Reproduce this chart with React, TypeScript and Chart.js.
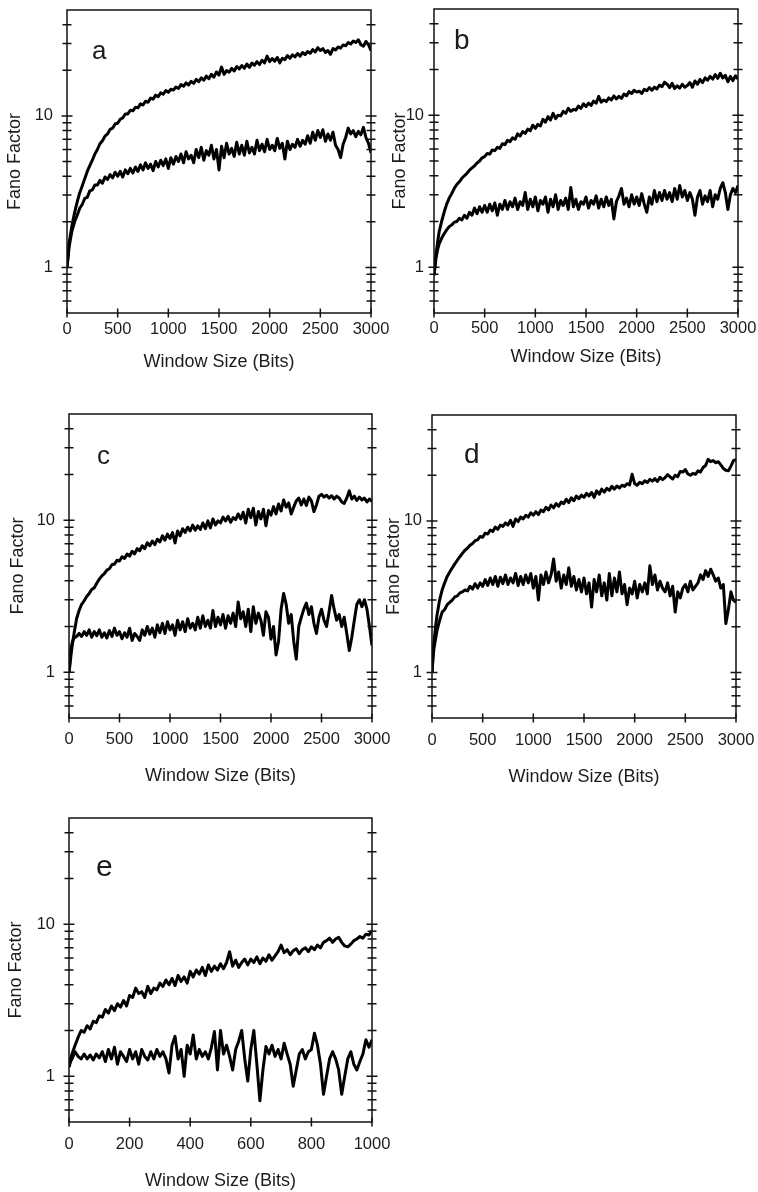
import React, { useEffect, useRef } from "react";
import { Chart, registerables } from "chart.js";

Chart.register(...registerables);

// ---------- DATA ----------
const X_BITS = [
  0, 10, 20, 35, 50, 75,
  100, 125, 150, 175, 200, 225, 250, 275,
  300, 325, 350, 375, 400, 425, 450, 475,
  500, 525, 550, 575, 600, 625, 650, 675,
  700, 725, 750, 775, 800, 825, 850, 875,
  900, 925, 950, 975, 1000, 1025, 1050, 1075,
  1100, 1125, 1150, 1175, 1200, 1225, 1250, 1275,
  1300, 1325, 1350, 1375, 1400, 1425, 1450, 1475,
  1500, 1525, 1550, 1575, 1600, 1625, 1650, 1675,
  1700, 1725, 1750, 1775, 1800, 1825, 1850, 1875,
  1900, 1925, 1950, 1975, 2000, 2025, 2050, 2075,
  2100, 2125, 2150, 2175, 2200, 2225, 2250, 2275,
  2300, 2325, 2350, 2375, 2400, 2425, 2450, 2475,
  2500, 2525, 2550, 2575, 2600, 2625, 2650, 2675,
  2700, 2725, 2750, 2775, 2800, 2825, 2850, 2875,
  2900, 2925, 2950, 2975, 3000,
];

const A_UPPER = [
  1.0, 1.2, 1.42, 1.66, 1.9, 2.3,
  2.7, 3.1, 3.45, 3.85, 4.3, 4.7, 5.1, 5.6,
  6.0, 6.55, 6.85, 7.35, 7.6, 8.15, 8.3, 8.85,
  8.95, 9.5, 9.7, 10.3, 10.3, 10.9, 10.8, 11.4,
  11.3, 12.0, 11.8, 12.5, 12.3, 13.1, 12.9, 13.7,
  13.4, 14.2, 13.9, 14.7, 14.3, 15.0, 14.8, 15.5,
  15.2, 16.1, 15.7, 16.5, 16.0, 16.9, 16.4, 17.4,
  16.8, 17.8, 17.2, 18.3, 17.6, 18.8, 18.0, 19.5,
  18.6, 21.0, 18.8, 19.9, 19.4, 20.6, 19.8, 21.2,
  20.4, 21.5, 20.6, 22.0, 20.9, 22.3, 21.6, 22.8,
  21.8, 23.3, 22.4, 24.8, 22.8, 23.9, 23.0, 24.3,
  22.4, 24.0, 23.5, 25.0, 24.0, 25.3, 24.5, 25.8,
  24.8, 26.2, 25.4, 26.6, 25.9, 27.4, 26.4, 28.2,
  27.0, 27.8, 26.2, 27.0, 25.5, 27.8, 27.2, 28.5,
  28.0, 29.4, 29.0, 30.5, 29.8, 31.2, 30.5, 31.8,
  29.5, 28.8, 31.0, 29.5, 27.0,
];

const A_LOWER = [
  1.0, 1.15, 1.35, 1.55, 1.75, 2.0,
  2.2, 2.45, 2.6, 2.85, 2.9, 3.2, 3.25, 3.5,
  3.5, 3.75, 3.6, 3.95, 3.8, 4.1, 3.9, 4.25,
  4.0, 4.3, 3.95, 4.4, 4.15, 4.5, 4.2, 4.6,
  4.3, 4.75, 4.4, 4.9, 4.5, 4.8, 4.35, 5.0,
  4.6, 5.1, 4.7, 5.2, 4.5, 5.3, 4.8, 5.4,
  5.0, 5.6, 4.9, 5.8, 5.2, 5.5, 4.9, 6.0,
  5.3, 6.2, 5.1, 5.9, 5.5, 6.4, 5.2, 6.0,
  4.4, 6.3, 5.3, 6.6, 5.6, 6.1, 5.4, 6.7,
  5.6, 6.4, 5.5, 6.8, 5.7, 6.2, 5.6, 6.9,
  5.9, 6.5, 5.8, 7.0, 6.0, 6.4, 5.9, 7.1,
  6.1, 6.6, 5.2, 6.8, 6.0, 6.5, 6.2, 7.0,
  6.3, 6.9, 6.5, 7.4, 6.6, 7.8, 6.9, 8.0,
  7.2, 8.1, 6.8, 7.6, 6.9, 7.8, 6.4, 6.0,
  5.3, 6.5, 7.2, 8.3, 7.6, 8.0, 7.3, 7.9,
  7.5, 8.4, 7.2, 6.6, 5.7,
];

const B_UPPER = [
  0.88, 1.05, 1.22, 1.45, 1.7, 2.0,
  2.3, 2.6, 2.85, 3.05, 3.3, 3.5, 3.65, 3.85,
  4.0, 4.15, 4.35, 4.5, 4.65, 4.85, 5.0, 5.25,
  5.35, 5.6, 5.55, 5.9, 5.85, 6.15, 6.05, 6.5,
  6.4, 6.85, 6.7, 7.1, 6.95, 7.55, 7.3, 7.8,
  7.6, 8.1, 7.9, 8.6, 8.2, 8.7, 8.5, 9.4,
  9.0, 9.8, 9.3, 10.3, 9.5, 10.0, 9.9, 10.6,
  10.3, 11.1, 10.6, 10.9, 10.8, 11.5, 11.1, 11.9,
  11.4, 12.0, 11.6, 12.4, 12.0, 13.3, 12.2, 12.6,
  12.3, 13.0, 12.6, 13.4, 12.8, 13.3, 12.9, 13.8,
  13.4, 14.3, 13.9, 14.6, 14.2, 14.4, 13.9, 14.8,
  14.5, 15.2, 14.6, 15.3, 14.9, 15.8, 15.4, 16.5,
  16.0, 15.2, 16.2, 15.0, 15.6, 15.1, 16.0, 15.3,
  15.7, 16.4, 15.3, 16.8, 16.0, 17.2, 16.4, 17.6,
  17.0, 18.0, 17.3, 18.5, 17.5, 18.9, 17.6, 18.3,
  16.6, 18.0, 16.9, 18.2, 17.3,
];

const B_LOWER = [
  0.9, 1.0, 1.15, 1.3, 1.42, 1.55,
  1.66, 1.76, 1.85, 1.9, 1.98, 2.0, 2.1, 2.05,
  2.2, 2.1, 2.3, 2.2, 2.45, 2.25, 2.5, 2.3,
  2.55, 2.3, 2.6, 2.35, 2.65, 2.2, 2.6, 2.4,
  2.75, 2.4, 2.7, 2.5, 2.85, 2.4, 2.7, 2.55,
  3.1, 2.4, 2.8, 2.5, 2.9, 2.35, 2.75, 2.6,
  2.9, 2.3, 2.8, 2.5, 3.0, 2.4, 2.75, 2.55,
  2.85, 2.4, 3.35, 2.5, 2.8, 2.4, 2.7, 2.6,
  2.9, 2.45, 2.75, 2.6, 2.95, 2.45, 2.8, 2.5,
  2.9, 2.55, 2.8, 2.08, 2.7, 2.95, 3.3, 2.6,
  2.85, 2.5, 3.0, 2.6, 2.9, 2.55, 3.05, 2.6,
  2.3, 2.9, 2.6, 3.2, 2.7, 3.1, 2.75, 3.2,
  2.8, 3.1, 2.7, 3.3, 2.8, 3.45, 2.9, 3.2,
  2.75, 3.1, 2.8, 2.2, 2.9, 3.2, 2.6, 2.95,
  2.7, 3.2, 2.5, 3.0, 2.8, 3.3, 3.6, 3.1,
  2.4, 3.0, 3.3, 3.1, 3.45,
];

const C_UPPER = [
  1.0, 1.12, 1.3, 1.55, 1.8, 2.25,
  2.55, 2.8, 2.95, 3.15, 3.3, 3.5, 3.6, 3.85,
  4.1, 4.3, 4.45, 4.7, 4.8, 5.1, 5.15, 5.45,
  5.4, 5.75, 5.6, 6.0, 5.8, 6.25, 6.0, 6.5,
  6.3, 6.8, 6.5, 7.1, 6.8, 7.3, 6.9, 7.5,
  7.2, 7.9, 7.4, 8.1, 7.6, 8.3, 7.1, 8.5,
  7.9, 8.8, 8.3, 9.0, 8.5, 9.3, 8.6, 9.2,
  8.7, 9.6, 8.8, 9.9, 8.9, 10.2, 9.3, 9.9,
  9.6, 10.5, 9.9, 10.6, 9.7, 10.4, 10.1, 11.0,
  10.2, 11.3, 9.6, 11.8, 10.4, 12.0, 9.3, 11.4,
  10.2, 11.8, 9.2, 11.6, 10.8, 12.3, 11.0, 12.8,
  11.5, 13.6, 12.2, 13.0, 11.0, 12.2, 13.4, 14.0,
  12.6, 13.8, 12.5, 14.2, 13.4, 11.4, 12.6, 14.4,
  14.8, 14.2, 14.6, 14.0, 14.5, 13.8, 14.4, 14.0,
  13.2, 12.9, 14.0, 15.6, 13.8, 14.4, 13.5, 14.2,
  13.6, 14.0, 13.2, 13.8, 13.3,
];

const C_LOWER = [
  1.0, 1.3, 1.45, 1.6, 1.68, 1.72,
  1.8, 1.72, 1.85, 1.75, 1.9, 1.7, 1.85, 1.74,
  1.9, 1.7, 1.82, 1.68, 1.88, 1.72, 1.95, 1.75,
  1.85, 1.66, 1.82, 1.7, 1.95, 1.62, 1.8, 1.72,
  1.62, 1.9, 1.75, 2.0, 1.78, 1.95, 1.7, 2.05,
  1.82, 2.1, 1.8, 2.15, 1.9, 2.05, 1.75, 2.2,
  1.9, 2.15, 1.85, 2.25, 1.95, 2.1, 1.9, 2.3,
  1.95, 2.35, 2.0, 2.2, 1.95, 2.55, 2.0, 2.3,
  2.05, 2.4, 1.95, 2.35, 2.1, 2.45, 2.0, 2.9,
  2.25, 2.5, 2.0, 2.6, 1.85, 2.7, 2.1, 2.45,
  2.2, 1.75, 2.5, 2.3, 1.65, 2.0, 1.3, 1.6,
  2.6, 3.3, 2.8, 2.1, 2.4, 1.6, 1.22, 2.0,
  2.3, 2.6, 2.85, 2.4, 2.7, 2.1, 1.8, 2.3,
  2.6, 2.2, 2.0, 2.5, 3.2, 2.6, 2.2, 2.4,
  2.0, 2.3, 1.8, 1.39, 1.7, 2.2, 2.8, 3.0,
  2.7, 3.0, 2.6, 2.0, 1.5,
];

const D_UPPER = [
  1.0, 1.3, 1.6, 2.0, 2.4, 3.0,
  3.5, 3.9, 4.3, 4.6, 4.9, 5.2, 5.5, 5.8,
  6.1, 6.4, 6.6, 6.9, 7.1, 7.4, 7.5, 7.9,
  7.8, 8.3, 8.2, 8.7, 8.5, 9.1, 8.8, 9.4,
  9.2, 9.7, 9.4, 10.1, 9.2, 10.3, 9.9, 10.6,
  10.3, 10.9, 10.6, 11.3, 10.9, 11.5, 11.0, 11.8,
  11.5, 12.3, 11.8, 12.7, 12.2, 13.0, 12.5, 13.3,
  13.0, 13.9, 13.2, 14.2, 13.6, 14.6, 14.0, 14.8,
  14.3, 15.2, 14.6, 15.4, 14.3, 15.8, 15.0, 16.2,
  15.5, 16.4, 15.9, 16.9, 16.2, 17.0, 16.5, 17.2,
  16.9, 17.6, 17.3, 20.3, 17.6, 17.2, 18.0, 17.6,
  18.4, 17.9, 18.8, 18.3, 19.0, 18.2, 19.4, 18.7,
  19.3, 20.2, 19.5, 18.9, 20.0, 19.6, 21.2, 21.0,
  21.8, 20.4, 20.0, 20.6, 20.3, 21.4, 21.0, 22.5,
  23.2, 25.5, 24.6, 25.0, 24.2, 24.6, 23.4, 22.2,
  21.6, 21.4, 23.0, 25.0, 25.4,
];

const D_LOWER = [
  1.0, 1.25, 1.45, 1.66, 1.9, 2.2,
  2.5, 2.6, 2.8, 2.9, 3.0, 3.15, 3.2, 3.35,
  3.4, 3.5, 3.45, 3.7, 3.55, 3.85, 3.6, 3.9,
  3.7, 4.1, 3.75, 4.2, 3.8, 4.3, 3.7, 4.25,
  3.85, 4.4, 3.8, 4.2, 3.9, 4.5, 3.75, 4.3,
  3.8, 4.4, 3.9, 4.5, 3.6, 4.3, 3.0, 4.4,
  3.8, 4.6, 3.9, 4.4, 5.6, 4.0, 4.6, 3.6,
  4.4, 3.8, 4.9, 3.7, 4.3, 3.5, 4.1, 3.4,
  4.2, 3.3, 3.9, 2.7, 4.1, 3.4, 4.4, 3.2,
  3.9, 3.0, 4.5, 3.2, 4.2, 3.4, 4.6, 3.3,
  3.8, 2.8, 3.6, 3.3, 4.0, 3.1, 3.8, 3.4,
  3.9, 3.3, 5.05, 3.8, 4.4, 3.5, 4.0, 3.6,
  3.4, 3.9, 3.2, 3.7, 2.5, 3.4, 3.1, 3.6,
  3.8, 3.4, 4.0, 3.5, 3.7, 3.9, 4.4, 4.1,
  4.7, 4.3, 4.8, 4.4, 4.0, 4.2, 3.6, 3.8,
  2.1, 2.6, 3.4, 3.0, 2.9,
];

const E_BITS = [
  0, 5,
  10, 20, 30, 40, 50, 60, 70, 80, 90, 100,
  110, 120, 130, 140, 150, 160, 170, 180, 190, 200,
  210, 220, 230, 240, 250, 260, 270, 280, 290, 300,
  310, 320, 330, 340, 350, 360, 370, 380, 390, 400,
  410, 420, 430, 440, 450, 460, 470, 480, 490, 500,
  510, 520, 530, 540, 550, 560, 570, 580, 590, 600,
  610, 620, 630, 640, 650, 660, 670, 680, 690, 700,
  710, 720, 730, 740, 750, 760, 770, 780, 790, 800,
  810, 820, 830, 840, 850, 860, 870, 880, 890, 900,
  910, 920, 930, 940, 950, 960, 970, 980, 990, 1000,
];

const E_UPPER = [
  1.15, 1.3,
  1.4, 1.6, 1.8, 2.0, 1.95, 2.15, 2.05, 2.3, 2.25, 2.5,
  2.45, 2.75, 2.6, 2.9, 2.7, 3.0, 2.85, 3.15, 2.9, 3.4,
  3.3, 3.8, 3.5, 3.6, 3.3, 3.9, 3.5, 3.8, 3.7, 4.1,
  3.9, 4.3, 4.0, 4.4, 3.95, 4.6, 4.2, 4.5, 4.1, 4.9,
  4.5, 5.0, 4.7, 5.2, 4.6, 5.4, 4.9, 5.3, 5.0, 5.5,
  5.1, 5.6, 6.6, 5.3, 5.8, 5.2, 5.6, 5.9, 5.4, 5.9,
  5.6, 6.1, 5.5, 6.0, 5.7, 6.3, 5.8, 6.2, 6.6, 7.3,
  6.5, 6.8, 6.3, 6.7, 6.9, 6.4, 6.8, 7.0, 6.6, 7.1,
  6.8, 7.3, 7.0, 7.6, 7.8, 8.1, 7.6, 8.0, 8.2, 7.6,
  7.2, 7.1, 7.4, 7.8, 8.0, 8.3, 8.1, 8.6, 8.5, 9.1,
];

const E_LOWER = [
  1.15, 1.25,
  1.3, 1.45, 1.35, 1.3, 1.4, 1.3, 1.38, 1.28, 1.4, 1.32,
  1.45, 1.25, 1.5, 1.3, 1.55, 1.2, 1.45, 1.35, 1.25, 1.5,
  1.3, 1.45, 1.2, 1.5, 1.35, 1.28, 1.45, 1.3, 1.5, 1.35,
  1.45, 1.3, 1.05, 1.6, 1.83, 1.3, 1.5, 1.0, 1.6, 1.4,
  1.87, 1.3, 1.5, 1.35, 1.45, 1.3, 1.55, 1.97, 1.1, 2.0,
  1.4, 1.6, 1.35, 1.1, 1.5, 1.7, 2.0, 1.3, 0.93, 1.5,
  2.0, 1.2, 0.69, 1.1, 1.57, 1.4, 1.6, 1.35, 1.5, 1.3,
  1.65, 1.4, 1.2, 0.86, 1.1, 1.4, 1.5, 1.3, 1.45, 1.5,
  1.92, 1.6, 1.2, 0.76, 1.0, 1.3, 1.45, 1.3, 1.1, 0.76,
  1.0, 1.3, 1.45, 1.2, 1.1, 1.25, 1.4, 1.74, 1.55, 1.74,
];

const Y_LABEL_TICKS = [1, 10];
const Y_MINOR_TICKS = [0.6, 0.7, 0.8, 0.9, 2, 3, 4, 5, 6, 7, 8, 9, 20, 30, 40];
const X_TICKS_3000 = [0, 500, 1000, 1500, 2000, 2500, 3000];
const X_TICKS_1000 = [0, 200, 400, 600, 800, 1000];
const Y_MIN = 0.5;
const Y_MAX = 50;
const PANEL_LETTERS = ["a", "b", "c", "d", "e"];
const X_TITLE = "Window Size (Bits)";
const Y_TITLE = "Fano Factor";

// ---------- PANEL LAYOUT ----------
type PanelCfg = {
  letter: string;
  xs: number[];
  upper: number[];
  lower: number[];
  xMax: number;
  xTicks: number[];
  left: number; top: number; w: number; h: number;
  padL: number; padR: number; padT: number;
  yW: number; xH: number;
  yPad: number; xPad: number;
  ldx: number; ldy: number; lsize: number;
};

const PANELS: PanelCfg[] = [
  { letter: PANEL_LETTERS[0], xs: X_BITS, upper: A_UPPER, lower: A_LOWER, xMax: 3000, xTicks: X_TICKS_3000,
    left: 0, top: 0, w: 395, h: 373, padL: 4, padR: 24, padT: 10, yW: 63, xH: 60, yPad: 14, xPad: 7,
    ldx: 25, ldy: 49, lsize: 26 },
  { letter: PANEL_LETTERS[1], xs: X_BITS, upper: B_UPPER, lower: B_LOWER, xMax: 3000, xTicks: X_TICKS_3000,
    left: 380, top: 0, w: 377, h: 368, padL: 9, padR: 19, padT: 9, yW: 45, xH: 55, yPad: 10, xPad: 6,
    ldx: 20, ldy: 40, lsize: 28 },
  { letter: PANEL_LETTERS[2], xs: X_BITS, upper: C_UPPER, lower: C_LOWER, xMax: 3000, xTicks: X_TICKS_3000,
    left: 0, top: 400, w: 395, h: 387, padL: 7, padR: 23, padT: 14, yW: 62, xH: 69, yPad: 14, xPad: 12,
    ldx: 28, ldy: 50, lsize: 26 },
  { letter: PANEL_LETTERS[3], xs: X_BITS, upper: D_UPPER, lower: D_LOWER, xMax: 3000, xTicks: X_TICKS_3000,
    left: 380, top: 400, w: 377, h: 388, padL: 3, padR: 21, padT: 15, yW: 49, xH: 70, yPad: 10, xPad: 13,
    ldx: 32, ldy: 48, lsize: 28 },
  { letter: PANEL_LETTERS[4], xs: E_BITS, upper: E_UPPER, lower: E_LOWER, xMax: 1000, xTicks: X_TICKS_1000,
    left: 0, top: 800, w: 395, h: 392, padL: 5, padR: 23, padT: 18, yW: 64, xH: 70, yPad: 14, xPad: 13,
    ldx: 27, ldy: 58, lsize: 30 },
];

const FONT = '"Liberation Sans", Arial, Helvetica, sans-serif';
const INK = "#111111";
const TEXT = "#1c1c1c";

const framePlugin = {
  id: "frame",
  afterDatasetsDraw(chart: any, _args: any, opts: any) {
    const { ctx, chartArea: a } = chart;
    const x = chart.scales.x;
    const y = chart.scales.y;
    ctx.save();
    ctx.strokeStyle = INK;
    ctx.lineWidth = 1.5;
    ctx.beginPath();
    ctx.rect(a.left, a.top, a.right - a.left, a.bottom - a.top);
    ctx.stroke();
    ctx.beginPath();
    const yTick = (v: number, len: number) => {
      const py = y.getPixelForValue(v);
      ctx.moveTo(a.left - len, py);
      ctx.lineTo(a.left + len, py);
      ctx.moveTo(a.right - len, py);
      ctx.lineTo(a.right + len, py);
    };
    Y_MINOR_TICKS.forEach((v) => yTick(v, 4.5));
    Y_LABEL_TICKS.forEach((v) => yTick(v, 5.5));
    (opts.xTicks as number[]).forEach((v) => {
      const px = x.getPixelForValue(v);
      ctx.moveTo(px, a.bottom - 4.5);
      ctx.lineTo(px, a.bottom + 4.5);
    });
    ctx.stroke();
    ctx.fillStyle = TEXT;
    ctx.font = `${opts.lsize}px ${FONT}`;
    ctx.textAlign = "left";
    ctx.textBaseline = "alphabetic";
    ctx.fillText(opts.letter, a.left + opts.ldx, a.top + opts.ldy);
    ctx.restore();
  },
};

function Panel({ cfg }: { cfg: PanelCfg }) {
  const ref = useRef<HTMLCanvasElement | null>(null);
  useEffect(() => {
    if (!ref.current) return;
    const mk = (ys: number[]) => cfg.xs.map((xv, i) => ({ x: xv, y: ys[i] }));
    const lineDs = (ys: number[]) => ({
      data: mk(ys),
      borderColor: "#000000",
      borderWidth: 3,
      pointRadius: 0,
      tension: 0,
      fill: false,
      borderJoinStyle: "round" as const,
    });
    const zeroPad = (s: any) => {
      s.paddingLeft = 0; s.paddingRight = 0; s.paddingTop = 0; s.paddingBottom = 0;
    };
    const chart = new Chart(ref.current, {
      type: "line",
      data: { datasets: [lineDs(cfg.upper), lineDs(cfg.lower)] },
      plugins: [framePlugin as any],
      options: {
        responsive: false,
        animation: false,
        devicePixelRatio: 1,
        layout: { padding: { left: cfg.padL, right: cfg.padR, top: cfg.padT, bottom: 0 } },
        plugins: {
          legend: { display: false },
          tooltip: { enabled: false },
          frame: { xTicks: cfg.xTicks, letter: cfg.letter, ldx: cfg.ldx, ldy: cfg.ldy, lsize: cfg.lsize },
        } as any,
        scales: {
          x: {
            type: "linear",
            min: 0,
            max: cfg.xMax,
            grid: { display: false, drawTicks: false },
            border: { display: false },
            afterBuildTicks: (s: any) => { s.ticks = cfg.xTicks.map((v) => ({ value: v })); },
            ticks: {
              padding: cfg.xPad,
              color: TEXT,
              autoSkip: false,
              maxRotation: 0,
              font: { family: FONT, size: 16.5 },
              callback: (v: any) => String(v),
            },
            title: {
              display: true,
              text: X_TITLE,
              color: TEXT,
              font: { family: FONT, size: 18 },
              padding: { top: 0, bottom: 0 },
            },
            afterFit: (s: any) => { s.height = cfg.xH; zeroPad(s); },
          },
          y: {
            type: "logarithmic",
            min: Y_MIN,
            max: Y_MAX,
            grid: { display: false, drawTicks: false },
            border: { display: false },
            afterBuildTicks: (s: any) => { s.ticks = Y_LABEL_TICKS.map((v) => ({ value: v })); },
            ticks: {
              padding: cfg.yPad,
              color: TEXT,
              autoSkip: false,
              font: { family: FONT, size: 16.5 },
              callback: (v: any) => String(v),
            },
            title: {
              display: true,
              text: Y_TITLE,
              color: TEXT,
              font: { family: FONT, size: 18 },
              padding: { top: 0, bottom: 0 },
            },
            afterFit: (s: any) => { s.width = cfg.yW; zeroPad(s); },
          },
        },
      } as any,
    });
    return () => chart.destroy();
  }, [cfg]);
  return (
    <canvas
      ref={ref}
      width={cfg.w}
      height={cfg.h}
      style={{ position: "absolute", left: cfg.left, top: cfg.top, width: cfg.w, height: cfg.h }}
    />
  );
}

export default function App() {
  return (
    <div style={{ position: "absolute", left: 0, top: 0, width: 758, height: 1192, background: "#ffffff", overflow: "hidden" }}>
      {PANELS.map((p) => (
        <Panel key={p.letter} cfg={p} />
      ))}
    </div>
  );
}
